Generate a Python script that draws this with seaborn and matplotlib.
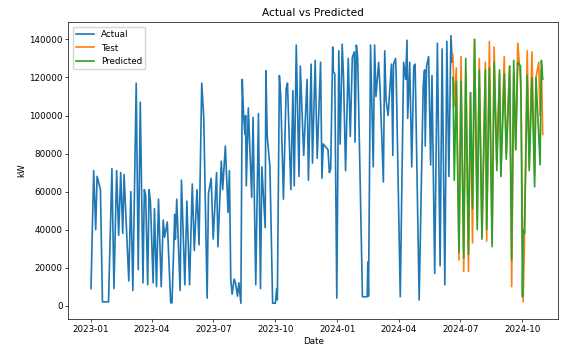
import pandas as pd
import matplotlib
matplotlib.use("Agg")
import matplotlib.pyplot as plt
import matplotlib.dates as mdates
import seaborn as sns

# Daily load series, recorded as turning points (days counted from 2023-01-01)
START = pd.Timestamp("2023-01-01")

actual_day = [
    0, 4, 7, 9, 14, 17, 26, 31, 34, 38, 41, 44, 47, 49, 56, 59, 62, 67, 70, 73,
    77, 79, 81, 84, 86, 88, 92, 94, 97, 100, 104, 107, 109, 113, 118, 120, 124, 125, 127, 132,
    134, 139, 142, 146, 150, 153, 157, 160, 164, 167, 172, 174, 178, 181, 186, 188, 193, 195, 199, 203,
    205, 207, 209, 212, 214, 217, 219, 222, 224, 226, 228, 229, 230, 233, 238, 240, 244, 248, 251, 253,
    258, 259, 261, 265, 269, 273, 275, 276, 279, 281, 285, 289, 291, 296, 299, 301, 304, 308, 310, 315,
    320, 322, 326, 328, 332, 335, 340, 342, 344, 351, 353, 355, 358, 359, 361, 364, 367, 369, 372, 374,
    377, 381, 384, 387, 390, 391, 393, 395, 402, 409, 410, 411, 414, 418, 420, 422, 426, 428, 433, 435,
    437, 440, 445, 447, 448, 451, 452, 458, 463, 466, 468, 469, 472, 475, 478, 480, 486, 492, 494, 495,
    497, 500, 503, 505, 509, 513, 517, 520, 524, 527, 530, 533, 535,
]
actual_kw = [
    9000, 71000, 40000, 68000, 61000, 2000, 2000, 72000, 9000, 71000, 37000, 70000, 38000, 69000, 13000, 60000, 8000, 117000, 19000, 107000,
    12000, 61000, 58000, 11000, 61000, 55000, 12000, 51000, 10000, 56000, 10000, 45000, 36000, 44000, 1500, 1500, 48000, 35000, 56000, 8000,
    66000, 11000, 55000, 11000, 64000, 29000, 61000, 32000, 117000, 99000, 4000, 59000, 67000, 35000, 70000, 31000, 76000, 61000, 84000, 49000,
    71000, 14000, 6000, 14000, 12000, 5000, 12000, 1300, 119000, 100000, 90000, 100000, 63000, 104000, 57000, 99000, 11000, 101000, 9000, 73000,
    41000, 123500, 89000, 73000, 1300, 1300, 9000, 3000, 121000, 110000, 56000, 114000, 117000, 61000, 113000, 63000, 137000, 68000, 126000, 79000,
    119000, 66000, 127000, 75000, 129000, 77500, 128000, 67000, 85000, 82000, 70000, 72000, 136000, 123000, 122000, 4000, 134000, 85000, 137500, 120000,
    71000, 130000, 89000, 130500, 133500, 86000, 137000, 130000, 4700, 4700, 23000, 5000, 137000, 73000, 137000, 110000, 128000, 115000, 65000, 134000,
    108000, 100000, 127000, 79000, 127000, 130000, 121000, 4700, 128000, 119000, 139600, 98500, 128000, 73000, 126000, 127000, 3000, 116000, 124000, 84000,
    126000, 131000, 74000, 121000, 17000, 138000, 21000, 135000, 11000, 139000, 68000, 142000, 128000,
]

test_day = [
    536, 538, 541, 545, 548, 552, 555, 559, 562, 565, 568, 572, 575, 579, 584, 586, 590, 594, 597, 601,
    605, 607, 612, 615, 620, 623, 626, 629, 632, 636, 637, 639, 640, 642, 646, 649, 653, 657, 659, 663,
    665, 667, 669,
]
test_kw = [
    132000, 105000, 125000, 24000, 131000, 18000, 124000, 18000, 112000, 33000, 140000, 45000, 130000, 36000, 128000, 34000, 139000, 33000, 136000, 75000,
    122000, 68000, 131000, 80000, 126000, 10000, 122000, 82000, 138000, 120000, 104000, 45000, 2000, 35000, 134000, 73000, 133500, 68000, 120000, 128000,
    100000, 125000, 90000,
]
predicted_kw = [
    120000, 66000, 118000, 28000, 118000, 25000, 130000, 27000, 112000, 51000, 140000, 40000, 124000, 35000, 124000, 40000, 125000, 31000, 128000, 71000,
    124000, 68000, 122000, 77000, 126000, 24000, 129000, 82000, 128000, 126000, 104000, 4700, 40000, 38000, 121000, 71000, 120000, 62500, 120000, 90000,
    74000, 129000, 119000,
]

plt.rcParams.update({"font.family": "DejaVu Sans", "font.size": 6.3})

actual = pd.DataFrame({"Date": START + pd.to_timedelta(actual_day, unit="D"), "kW": actual_kw})
test = pd.DataFrame({"Date": START + pd.to_timedelta(test_day, unit="D"), "kW": test_kw})
predicted = pd.DataFrame({"Date": START + pd.to_timedelta(test_day, unit="D"), "kW": predicted_kw})

fig = plt.figure(figsize=(5.63, 3.47), dpi=100)
ax = fig.add_axes([0.1213, 0.0807, 0.8703, 0.855])

sns.lineplot(data=actual, x="Date", y="kW", ax=ax, color="#1f77b4", label="Actual",
             lw=1.2, estimator=None)
sns.lineplot(data=test, x="Date", y="kW", ax=ax, color="#ff7f0e", label="Test",
             lw=1.2, estimator=None)
sns.lineplot(data=predicted, x="Date", y="kW", ax=ax, color="#2ca02c", label="Predicted",
             lw=1.2, estimator=None)

ax.set_title("Actual vs Predicted", fontsize=7.6, pad=4.2)
ax.set_xlabel("Date", labelpad=2.2)
ax.set_ylabel("kW", labelpad=2.2)
ax.xaxis.set_major_locator(mdates.MonthLocator(bymonth=[1, 4, 7, 10]))
ax.xaxis.set_major_formatter(mdates.DateFormatter("%Y-%m"))
ax.set_xlim(START - pd.Timedelta(days=33.6), START + pd.Timedelta(days=692))
ax.set_ylim(-7000, 149000)
ax.tick_params(length=2, width=0.5, pad=2)
for s in ax.spines.values():
    s.set_linewidth(0.5)
ax.legend(loc="upper left")

fig.savefig("out.png", dpi=100)
